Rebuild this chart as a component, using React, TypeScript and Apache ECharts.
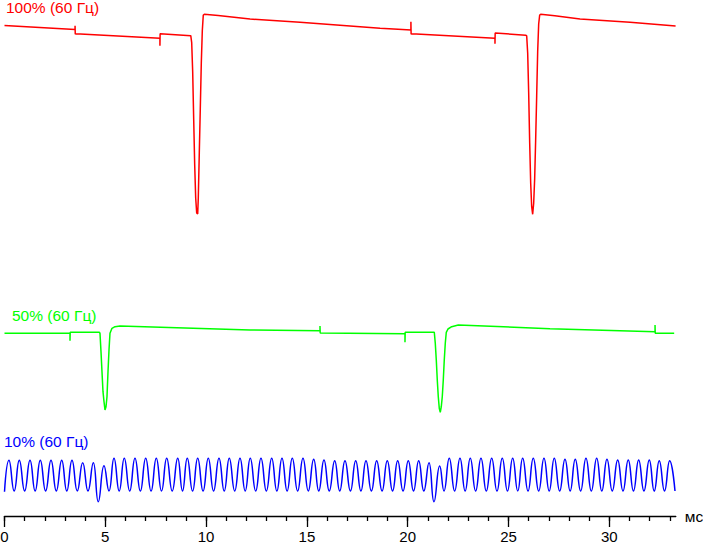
import React, { useEffect, useRef } from "react";
import * as echarts from "echarts";

// Time axis (ms)
const timeMin = 0;
const timeMax = 33.3;
const majorTicks = [0, 5, 10, 15, 20, 25, 30];
const minorTicks = [
  0, 1, 2, 3, 4, 5, 6, 7, 8, 9, 10, 11, 12, 13, 14, 15, 16, 17, 18, 19, 20,
  21, 22, 23, 24, 25, 26, 27, 28, 29, 30, 31, 32, 33,
];
const axisUnit = "мс";

const traceLabels = ["100% (60 Гц)", "50% (60 Гц)", "10% (60 Гц)"];
const traceColors = ["#ff0000", "#00ff00", "#0000ff"];

// Brightness traces (arbitrary units, stacked), [time ms, level]
const redTrace: [number, number][] = [
  [0, 490.5], [3.5, 486.5], [3.5, 490.3], [3.51, 481.7], [3.53, 482.3],
  [7.71, 477.7], [7.71, 470.3], [7.72, 482.3], [9.24, 480.3],
  [9.286, 473.3], [9.335, 444.3], [9.385, 396.7], [9.435, 351], [9.484, 318],
  [9.534, 303], [9.583, 302], [9.613, 318], [9.663, 363.3], [9.712, 407],
  [9.762, 452.7], [9.812, 485], [9.861, 501], [9.911, 501.7],
  [10.6, 500.5], [12.18, 497], [14.66, 493.7], [17.14, 490], [18.63, 487.7],
  [19.52, 486.7], [20.16, 486], [20.16, 494.3], [20.17, 481.7], [20.2, 482.3],
  [24.33, 477.7], [24.33, 472.3], [24.34, 483], [25.85, 480.7],
  [25.903, 480.3], [25.953, 462.7], [26.002, 423.3], [26.052, 373.3],
  [26.101, 333.3], [26.151, 309.3], [26.2, 301.7], [26.25, 312.7],
  [26.3, 337.7], [26.349, 376.7], [26.399, 420], [26.448, 464.3],
  [26.498, 492], [26.548, 501], [26.597, 501.7],
  [27.3, 500.3], [28.55, 497], [31.03, 493.7], [33.29, 490],
];

const greenTrace: [number, number][] = [
  [0, 182.7], [3.249, 182.7], [3.249, 175.3], [3.26, 183.7], [4.702, 183.7],
  [4.737, 182.7], [4.787, 164.3], [4.836, 144.3], [4.886, 124.3],
  [4.936, 114.3], [4.985, 106], [5.035, 109.3], [5.084, 119.3],
  [5.134, 144.3], [5.184, 166], [5.233, 182.7], [5.332, 187.7],
  [5.481, 189.3], [5.729, 190], [12.18, 186], [15.65, 185.3], [15.65, 190],
  [15.66, 183], [19.866, 182.3], [19.866, 173.7], [19.876, 183.7],
  [21.32, 183.7], [21.369, 172.7], [21.419, 156], [21.468, 136],
  [21.518, 119.3], [21.567, 107.7], [21.617, 103.7], [21.667, 109.3],
  [21.716, 119.3], [21.766, 136], [21.815, 156], [21.865, 172.7],
  [21.915, 183.7], [21.999, 187], [22.183, 189.3], [22.51, 191],
  [27.06, 187.3], [32.27, 184.3], [32.27, 191], [32.28, 182.7],
  [33.22, 182.7],
];

const blueTrace: [number, number][] = [
  [0, 24.3], [0.223, 55.7], [0.48, 25], [0.734, 55.7], [1.0, 25],
  [1.265, 55.7], [1.52, 25], [1.776, 55.7], [2.04, 25], [2.307, 55.7],
  [2.57, 25], [2.837, 55.7], [3.09, 25], [3.348, 55.7], [3.61, 25],
  [3.879, 53.3], [4.14, 25], [4.405, 53.3], [4.653, 14.3], [4.936, 50.3],
  [5.183, 25], [5.432, 57.7], [5.69, 25], [5.942, 57.7], [6.21, 25],
  [6.473, 57.7], [6.74, 25], [7.004, 57.7], [7.27, 25], [7.53, 57.7],
  [7.79, 25], [8.046, 57.7], [8.32, 25], [8.591, 57.7], [8.83, 25],
  [9.067, 57.7], [9.33, 25], [9.583, 57.7], [9.85, 25], [10.109, 57.7],
  [10.37, 25], [10.64, 57.7], [10.9, 25], [11.151, 57.7], [11.42, 25],
  [11.682, 57.7], [11.94, 25], [12.192, 57.7], [12.46, 25], [12.723, 57.7],
  [12.99, 25], [13.254, 57.7], [13.51, 25], [13.765, 57.7], [14.02, 25],
  [14.276, 57.7], [14.54, 25], [14.807, 57.7], [15.07, 25], [15.337, 56.7],
  [15.59, 25], [15.848, 56], [16.11, 25], [16.379, 55.3], [16.63, 25],
  [16.89, 55.3], [17.16, 25], [17.421, 55.3], [17.68, 25], [17.932, 55.3],
  [18.2, 25], [18.462, 55.3], [18.73, 25], [18.988, 55.3], [19.25, 25],
  [19.504, 55.3], [19.77, 25], [20.03, 55.3], [20.29, 25], [20.546, 55.3],
  [20.8, 25], [21.057, 53.3], [21.305, 14.3], [21.587, 50], [21.801, 25],
  [22.063, 57.7], [22.33, 25], [22.594, 57.7], [22.85, 25], [23.105, 57.7],
  [23.37, 25], [23.636, 57.7], [23.9, 25], [24.167, 57.7], [24.43, 25],
  [24.692, 57.7], [24.95, 25], [25.208, 57.7], [25.46, 25], [25.704, 57.7],
  [25.97, 25], [26.23, 57.7], [26.5, 25], [26.761, 57.7], [27.02, 25],
  [27.272, 57.7], [27.54, 25], [27.803, 56.7], [28.06, 25], [28.313, 56.7],
  [28.58, 25], [28.844, 57.7], [29.11, 25], [29.375, 57.7], [29.63, 25],
  [29.886, 56.7], [30.15, 25], [30.417, 56], [30.68, 25], [30.942, 56],
  [31.2, 25], [31.458, 56], [31.72, 25], [31.984, 56], [32.23, 25],
  [32.48, 55.3], [32.74, 25], [32.996, 55.3], [33.26, 25],
];

const FONT = "'Liberation Sans', Arial, sans-serif";

export default function App() {
  const ref = useRef<HTMLDivElement>(null);
  useEffect(() => {
    if (!ref.current) return;
    const chart = echarts.init(ref.current, null, { renderer: "svg" });
    const labelPos = [
      { x: 6, y: 7.9 },
      { x: 12, y: 315 },
      { x: 4, y: 441.8 },
    ];
    chart.setOption({
      animation: false,
      backgroundColor: "#ffffff",
      grid: {
        left: 4.5,
        right: 27.2,
        top: 0,
        bottom: 28,
        containLabel: false,
        outerBoundsMode: "none",
      },
      xAxis: [
        {
          type: "value",
          min: timeMin,
          max: timeMax,
          position: "bottom",
          splitLine: { show: false },
          axisLine: { show: true, lineStyle: { color: "#000", width: 1.3 } },
          axisTick: {
            show: true,
            customValues: majorTicks,
            length: 11,
            lineStyle: { color: "#000", width: 1.3 },
          },
          axisLabel: {
            customValues: majorTicks,
            color: "#000",
            fontSize: 15,
            fontFamily: FONT,
            verticalAlign: "middle",
            margin: 20.2,
          },
          name: axisUnit,
          nameLocation: "end",
          nameGap: 9,
          nameTextStyle: { color: "#000", fontSize: 15.5, fontFamily: FONT },
        },
        {
          type: "value",
          min: timeMin,
          max: timeMax,
          position: "bottom",
          splitLine: { show: false },
          axisLine: { show: false },
          axisTick: {
            show: true,
            customValues: minorTicks,
            length: 5,
            lineStyle: { color: "#000", width: 1.3 },
          },
          axisLabel: { show: false },
        },
      ],
      yAxis: { type: "value", min: 0, max: 516, show: false },
      graphic: traceLabels.map((t, i) => ({
        type: "text",
        x: labelPos[i].x,
        y: labelPos[i].y,
        style: {
          text: t,
          fill: traceColors[i],
          fontSize: 15.5,
          fontFamily: FONT,
          verticalAlign: "middle",
        },
      })),
      series: [
        {
          type: "line",
          data: redTrace,
          showSymbol: false,
          lineStyle: { color: traceColors[0], width: 1.5 },
        },
        {
          type: "line",
          data: greenTrace,
          showSymbol: false,
          lineStyle: { color: traceColors[1], width: 1.5 },
        },
        {
          type: "line",
          data: blueTrace,
          showSymbol: false,
          smooth: 0.5,
          lineStyle: { color: traceColors[2], width: 1.5 },
        },
      ],
    });
    return () => chart.dispose();
  }, []);
  return (
    <div
      ref={ref}
      style={{ position: "absolute", left: 0, top: 0, width: 703, height: 544 }}
    />
  );
}
